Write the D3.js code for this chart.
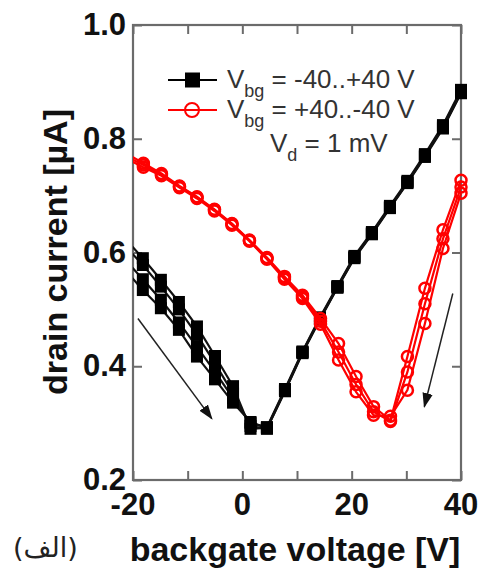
<!DOCTYPE html>
<html>
<head>
<meta charset="utf-8">
<script src="https://cdn.jsdelivr.net/npm/d3@7"></script>
<style>
  body { margin: 0; background: #fff; }
  svg { display: block; }
</style>
</head>
<body>
<div id="chart"></div>
<script>
// backgate sweep, -40 -> +40 V (black squares)
let vbgUp = [-21.5, -18.2, -14.9, -11.6, -8.3, -5.0, -1.7, 1.5, 4.5, 7.8, 11.0, 14.2, 17.4, 20.5, 23.7, 27.0, 30.2, 33.4, 36.7, 40.0];
let up1 = [0.625, 0.590, 0.552, 0.513, 0.470, 0.418, 0.365, 0.290, 0.292, 0.358, 0.425, 0.484, 0.540, 0.592, 0.634, 0.680, 0.724, 0.771, 0.822, 0.883];
let up2 = [0.612, 0.578, 0.540, 0.500, 0.455, 0.405, 0.352, 0.295, 0.290, 0.356, 0.423, 0.482, 0.538, 0.590, 0.632, 0.678, 0.722, 0.768, 0.818, 0.880];
let up3 = [0.588, 0.553, 0.517, 0.477, 0.434, 0.390, 0.344, 0.300, 0.293, 0.360, 0.426, 0.486, 0.541, 0.594, 0.636, 0.682, 0.726, 0.773, 0.824, 0.886];
let up4 = [0.570, 0.534, 0.502, 0.464, 0.417, 0.377, 0.336, 0.302, 0.291, 0.357, 0.424, 0.483, 0.539, 0.591, 0.633, 0.679, 0.723, 0.770, 0.820, 0.881];

// backgate sweep, +40 -> -40 V (red circles)
let vbgDown = [40.0, 36.7, 33.4, 30.2, 27.1, 24.0, 20.8, 17.6, 14.3, 11.0, 7.7, 4.5, 1.3, -1.9, -5.1, -8.3, -11.5, -14.8, -18.1, -21.4];
let down1 = [0.727, 0.640, 0.537, 0.417, 0.305, 0.329, 0.382, 0.440, 0.484, 0.525, 0.558, 0.591, 0.622, 0.651, 0.676, 0.698, 0.717, 0.739, 0.757, 0.775];
let down2 = [0.704, 0.607, 0.475, 0.358, 0.312, 0.314, 0.355, 0.411, 0.474, 0.519, 0.553, 0.588, 0.620, 0.648, 0.673, 0.695, 0.714, 0.735, 0.750, 0.766];
let down3 = [0.715, 0.624, 0.510, 0.390, 0.303, 0.320, 0.368, 0.425, 0.479, 0.522, 0.556, 0.590, 0.621, 0.650, 0.675, 0.697, 0.716, 0.737, 0.754, 0.770];

let xTicks = [-20, 0, 20, 40];
let xMinor = [-10, 10, 30];
let yTicks = [0.2, 0.4, 0.6, 0.8, 1.0];

// sweep direction arrows, in data units
let arrows = [
  {x1: -19.1, y1: 0.484, x2: -5.6, y2: 0.308},
  {x1: 38.5, y1: 0.528, x2: 33.3, y2: 0.329}
];

let width = 481, height = 570;
let margin = {top: 25, right: 20, bottom: 90, left: 133};
let w = 461 - margin.left, h = 480 - margin.top;

let svg = d3.select('#chart').append('svg')
    .attr('width', width)
    .attr('height', height);

let g = svg.append('g')
    .attr('transform', `translate(${margin.left}, ${margin.top})`);

let x = d3.scaleLinear().domain([-20, 40]).range([0, w]);
let y = d3.scaleLinear().domain([0.2, 1.0]).range([h, 0]);

// clip only on the left, the right edge markers sit on the frame
svg.append('defs').append('clipPath').attr('id', 'clip')
  .append('rect').attr('x', 0).attr('y', -10).attr('width', w + 20).attr('height', h + 20);

svg.select('defs').append('marker')
    .attr('id', 'head')
    .attr('viewBox', '0 0 10 10')
    .attr('refX', 9).attr('refY', 5)
    .attr('markerWidth', 15).attr('markerHeight', 15)
    .attr('markerUnits', 'userSpaceOnUse')
    .attr('orient', 'auto')
  .append('path')
    .attr('d', 'M0,1.5 L10,5 L0,8.5 Z')
    .attr('fill', '#111');

let axisColor = '#6b6b6b';
let font = "'Liberation Sans', Arial, sans-serif";

// ticks pointing inward on all four sides
let tickLen = 9;
g.append('g').call(d3.axisBottom(x).tickValues(xTicks.concat(xMinor)).tickSize(-tickLen).tickFormat(''))
    .attr('transform', `translate(0, ${h})`);
g.append('g').call(d3.axisTop(x).tickValues(xTicks.concat(xMinor)).tickSize(-tickLen).tickFormat(''));
g.append('g').call(d3.axisLeft(y).tickValues(yTicks).tickSize(-tickLen).tickFormat(''));
g.append('g').call(d3.axisRight(y).tickValues(yTicks).tickSize(-tickLen).tickFormat(''))
    .attr('transform', `translate(${w}, 0)`);
g.selectAll('.domain').remove();
g.selectAll('.tick line').attr('stroke', axisColor).attr('stroke-width', 2);

g.append('rect')
    .attr('width', w).attr('height', h)
    .attr('fill', 'none')
    .attr('stroke', axisColor)
    .attr('stroke-width', 2.2);

// tick labels
g.selectAll('.xlab').data(xTicks).enter().append('text')
    .attr('class', 'xlab')
    .attr('x', d => x(d))
    .attr('y', h + 35)
    .attr('text-anchor', 'middle')
    .style('font-family', font).style('font-weight', 'bold').style('font-size', '31px')
    .attr('fill', '#111')
    .text(d => d);

g.selectAll('.ylab').data(yTicks).enter().append('text')
    .attr('class', 'ylab')
    .attr('x', -7)
    .attr('y', d => y(d) + 10)
    .attr('text-anchor', 'end')
    .style('font-family', font).style('font-weight', 'bold').style('font-size', '31px')
    .attr('fill', '#111')
    .text(d => d.toFixed(1));

// axis titles
svg.append('text')
    .attr('x', 295).attr('y', 561)
    .attr('text-anchor', 'middle')
    .style('font-family', font).style('font-weight', 'bold').style('font-size', '34px')
    .attr('fill', '#111')
    .text('backgate voltage [V]');

svg.append('text')
    .attr('transform', 'translate(67, 252) rotate(-90)')
    .attr('text-anchor', 'middle')
    .style('font-family', font).style('font-weight', 'bold').style('font-size', '34px')
    .attr('fill', '#111')
    .text('drain current [µA]');

svg.append('text')
    .attr('x', 13).attr('y', 557)
    .style('font-family', "'DejaVu Sans', sans-serif").style('font-size', '27px')
    .attr('fill', '#222')
    .text('(الف)');

// data
let line = d3.line().x(d => x(d[0])).y(d => y(d[1]));
let plot = g.append('g').attr('clip-path', 'url(#clip)');

let upSweeps = [up1, up2, up3, up4].map(s => vbgUp.map((v, i) => [v, s[i]]));
let downSweeps = [down1, down2, down3].map(s => vbgDown.map((v, i) => [v, s[i]]));

plot.selectAll('.up').data(upSweeps).enter().append('path')
    .attr('class', 'up')
    .attr('d', line)
    .attr('fill', 'none')
    .attr('stroke', '#111')
    .attr('stroke-width', 2.2);

plot.selectAll('.sq').data(upSweeps.flat()).enter().append('rect')
    .attr('class', 'sq')
    .attr('x', d => x(d[0]) - 6)
    .attr('y', d => y(d[1]) - 6)
    .attr('width', 12).attr('height', 12)
    .attr('fill', '#000');

plot.selectAll('.down').data(downSweeps).enter().append('path')
    .attr('class', 'down')
    .attr('d', line)
    .attr('fill', 'none')
    .attr('stroke', '#f00')
    .attr('stroke-width', 2.2);

plot.selectAll('.ci').data(downSweeps.flat()).enter().append('circle')
    .attr('class', 'ci')
    .attr('cx', d => x(d[0]))
    .attr('cy', d => y(d[1]))
    .attr('r', 5.5)
    .attr('fill', 'none')
    .attr('stroke', '#f00')
    .attr('stroke-width', 2.5);

g.selectAll('.arrow').data(arrows).enter().append('line')
    .attr('class', 'arrow')
    .attr('x1', d => x(d.x1)).attr('y1', d => y(d.y1))
    .attr('x2', d => x(d.x2)).attr('y2', d => y(d.y2))
    .attr('stroke', '#222')
    .attr('stroke-width', 1.5)
    .attr('marker-end', 'url(#head)');

// legend
let legend = svg.append('g').style('font-family', font).style('font-size', '26px').attr('fill', '#333');
let rows = [
  {label: ' = -40..+40 V', color: '#000', y: 80, shape: 'sq'},
  {label: ' = +40..-40 V', color: '#f00', y: 110, shape: 'ci'}
];
rows.forEach(r => {
  legend.append('line')
      .attr('x1', 168).attr('x2', 217).attr('y1', r.y).attr('y2', r.y)
      .attr('stroke', r.color).attr('stroke-width', 2);
  if (r.shape == 'sq') {
    legend.append('rect').attr('x', 185).attr('y', r.y - 7.5).attr('width', 15).attr('height', 15).attr('fill', '#000');
  } else {
    legend.append('circle').attr('cx', 192).attr('cy', r.y).attr('r', 7)
        .attr('fill', 'none').attr('stroke', '#f00').attr('stroke-width', 2);
  }
  let t = legend.append('text').attr('x', 227).attr('y', r.y + 8);
  t.append('tspan').text('V');
  t.append('tspan').attr('dy', 9).style('font-size', '18px').text('bg');
  t.append('tspan').attr('dy', -9).text(r.label);
});
let vd = legend.append('text').attr('x', 270).attr('y', 152);
vd.append('tspan').text('V');
vd.append('tspan').attr('dy', 9).style('font-size', '18px').text('d');
vd.append('tspan').attr('dy', -9).text(' = 1 mV');
</script>
</body>
</html>
